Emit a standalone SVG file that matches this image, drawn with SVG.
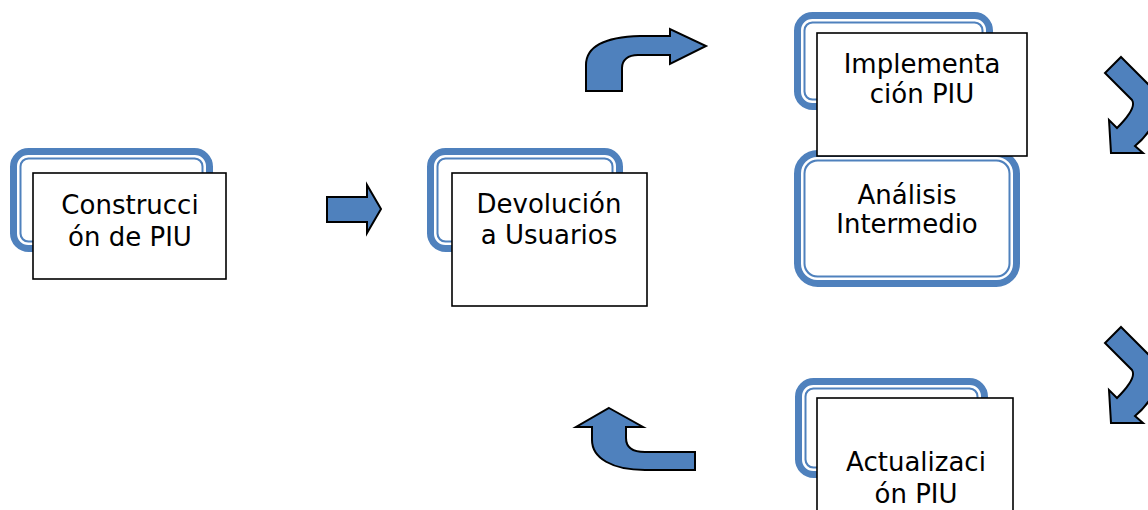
<svg xmlns="http://www.w3.org/2000/svg" width="1148" height="510" viewBox="0 0 1148 510">
<style>
.fo{fill:#fff;stroke:#4f81bd;stroke-width:11.5}
.fi{fill:none;stroke:#fff;stroke-width:2.5}
.bx{fill:#fff;stroke:#000;stroke-width:1.6}
.t{font-family:"DejaVu Sans",Verdana,sans-serif;font-size:26px;fill:#000;text-anchor:middle}
.ar{fill:#4f81bd;stroke:#000;stroke-width:2;stroke-linejoin:miter}
</style>
<rect width="1148" height="510" fill="#fff"/>
<g id="connectors">
<path class="ar" d="M327,197 L367,197 L367,185 L381,209 L367,233 L367,222 L327,222 Z"/>
<path class="ar" d="M586,91 L586,65 C586,46 606,37 640,36 L670,36 L670,29 L706,46 L670,64 L670,55 L638,55 C628,55 622,60 622,68 L622,91 Z"/>
<path id="dn" class="ar" d="M1121,57 L1152,88 C1162,100 1160,125 1135,146 L1143,153 L1111,153 L1109,120 L1117,128 C1127,118 1136,106 1132,100 L1105,73 Z"/>
<use href="#dn" transform="translate(0,270)"/>
<path class="ar" d="M609,408 L643,427 L626,427 L626,438 C626,447 632,452 645,452 L695,452 L695,470 L645,470 C612,470 592,458 592,440 L592,427 L576,427 Z"/>
</g>
<g id="node-construccion">
<rect class="fo" x="15.75" y="153.75" width="191.5" height="92.5" rx="13"/>
<rect class="fi" x="18.25" y="156.25" width="186.5" height="87.5" rx="10"/>
<rect class="bx" x="33" y="173" width="193" height="106"/>
<text class="t" x="130" y="214">Construcci</text>
<text class="t" x="130" y="246">ón de PIU</text>
</g>
<g id="node-devolucion">
<rect class="fo" x="432.75" y="153.75" width="184.5" height="92.5" rx="13"/>
<rect class="fi" x="435.25" y="156.25" width="179.5" height="87.5" rx="10"/>
<rect class="bx" x="452" y="173" width="195" height="133"/>
<text class="t" x="549" y="213">Devolución</text>
<text class="t" x="549" y="244">a Usuarios</text>
</g>
<g id="node-analisis">
<rect class="fo" x="799.75" y="155.75" width="214.5" height="125.5" rx="18"/>
<rect class="fi" x="802.25" y="158.25" width="209.5" height="120.5" rx="15"/>
<text class="t" x="907" y="204">Análisis</text>
<text class="t" x="907" y="233">Intermedio</text>
</g>
<g id="node-implementacion">
<rect class="fo" x="799.75" y="17.75" width="187.5" height="86.5" rx="13"/>
<rect class="fi" x="802.25" y="20.25" width="182.5" height="81.5" rx="10"/>
<rect class="bx" x="817" y="33" width="210" height="123"/>
<text class="t" x="922" y="73">Implementa</text>
<text class="t" x="922" y="103">ción PIU</text>
</g>
<g id="node-actualizacion">
<rect class="fo" x="800.75" y="383.75" width="181.5" height="88.5" rx="13"/>
<rect class="fi" x="803.25" y="386.25" width="176.5" height="83.5" rx="10"/>
<rect class="bx" x="817" y="398" width="196" height="130"/>
<text class="t" x="916" y="471">Actualizaci</text>
<text class="t" x="916" y="503">ón PIU</text>
</g>
</svg>
